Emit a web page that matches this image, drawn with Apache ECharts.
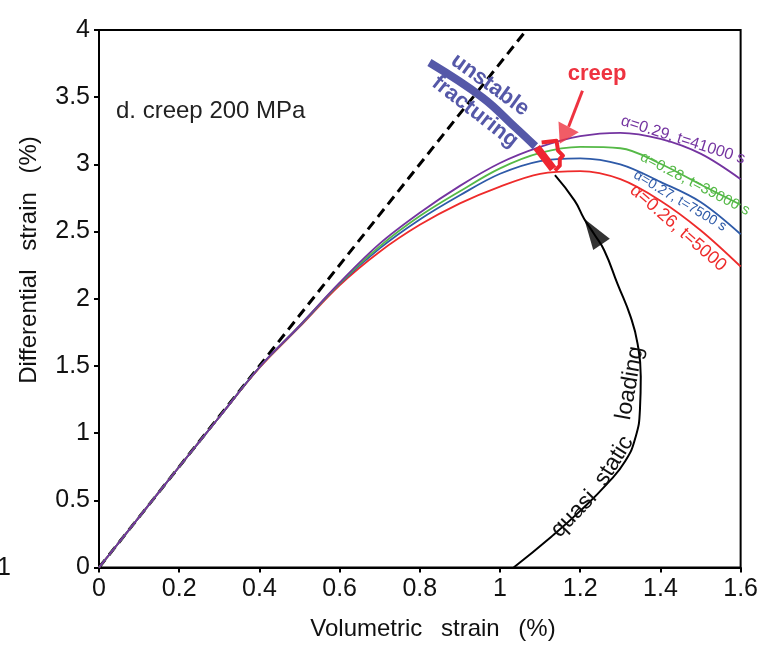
<!DOCTYPE html>
<html>
<head>
<meta charset="utf-8">
<script src="https://cdn.jsdelivr.net/npm/echarts@6/dist/echarts.min.js"></script>
<style>
html, body { margin: 0; padding: 0; background: #fff; }
#chart { width: 761px; height: 648px; }
</style>
</head>
<body>
<div id="chart"></div>
<script>
// volumetric strain samples shared by the four creep curves
const strainX = [0, 0.1, 0.2, 0.3, 0.4, 0.5, 0.6, 0.7, 0.8, 0.9, 1.0, 1.1, 1.2, 1.3, 1.4, 1.5, 1.6]
const curve029 = [0, 0.375, 0.75, 1.12, 1.49, 1.80, 2.12, 2.41, 2.64, 2.84, 3.01, 3.13, 3.21, 3.235, 3.19, 3.08, 2.89]
const curve028 = [0, 0.375, 0.75, 1.12, 1.49, 1.80, 2.115, 2.39, 2.615, 2.80, 2.97, 3.085, 3.13, 3.12, 3.005, 2.85, 2.70]
const curve027 = [0, 0.375, 0.75, 1.12, 1.49, 1.795, 2.11, 2.375, 2.59, 2.77, 2.93, 3.025, 3.045, 3.00, 2.87, 2.72, 2.48]
const curve026 = [0, 0.375, 0.75, 1.12, 1.485, 1.79, 2.10, 2.35, 2.55, 2.71, 2.835, 2.93, 2.95, 2.89, 2.73, 2.51, 2.24]

// elastic reference line
const dashedX = [0, 1.066]
const dashedY = [0, 4]

// quasi static loading path
const loadingX = [1.034, 1.128, 1.202, 1.268, 1.312, 1.338, 1.349, 1.351, 1.343, 1.326, 1.293, 1.260, 1.235, 1.21, 1.186, 1.137]
const loadingY = [0, 0.229, 0.427, 0.626, 0.79, 0.97, 1.18, 1.42, 1.666, 1.863, 2.111, 2.359, 2.48, 2.594, 2.73, 2.92]
const loadingArrow = [[1.2315, 2.50]]

// unstable fracturing branch
const fractureX = [0.824, 0.956, 1.038, 1.088]
const fractureY = [3.758, 3.498, 3.275, 3.135]

// creep marker
const creepBarX = [1.0915, 1.1324]
const creepBarY = [3.126, 2.966]
const creepBraceX = [1.1038, 1.1408, 1.1447, 1.157, 1.149, 1.149, 1.137]
const creepBraceY = [3.163, 3.176, 3.102, 3.065, 3.040, 2.990, 2.953]
const creepShaftX = [1.2056, 1.171]
const creepShaftY = [3.548, 3.280]
const creepArrow = [[1.160, 3.216]]

const font = 'Liberation Sans, Arial, sans-serif'

function pairs(xs, ys) {
	return xs.map((x, i) => [x, ys[i]])
}

function curve(name, ys, color) {
	return {
		name: name,
		type: 'line',
		data: pairs(strainX, ys),
		smooth: 0.35,
		symbol: 'none',
		lineStyle: { color: color, width: 1.8 },
		z: 3
	}
}

function label(text, x, y, deg, size, color, weight) {
	return {
		type: 'text',
		x: x,
		y: y,
		rotation: deg * Math.PI / 180,
		style: {
			text: text,
			fontFamily: font,
			fontSize: size,
			fontWeight: weight || 'normal',
			fill: color,
			align: 'center',
			verticalAlign: 'middle'
		},
		z: 10
	}
}

const chart = echarts.init(document.getElementById('chart'))
chart.setOption({
	animation: false,
	backgroundColor: '#fff',
	grid: {
		left: 99,
		right: 13,
		top: 30,
		bottom: 80.5,
		show: true,
		borderColor: '#000',
		borderWidth: 2
	},
	xAxis: {
		type: 'value',
		min: 0,
		max: 1.6,
		interval: 0.2,
		axisLine: { show: true, onZero: false, lineStyle: { color: '#000', width: 2 } },
		axisTick: { show: true, inside: false, length: 5, lineStyle: { color: '#000', width: 2 } },
		axisLabel: { color: '#111', fontSize: 25, fontFamily: font, margin: 9 },
		splitLine: { show: false }
	},
	yAxis: {
		type: 'value',
		min: 0,
		max: 4,
		interval: 0.5,
		axisLine: { show: true, onZero: false, lineStyle: { color: '#000', width: 2 } },
		axisTick: { show: true, inside: false, length: 5, lineStyle: { color: '#000', width: 2 } },
		axisLabel: { color: '#111', fontSize: 25, fontFamily: font, margin: 9 },
		splitLine: { show: false }
	},
	series: [
		{
			name: 'elastic',
			type: 'line',
			data: pairs(dashedX, dashedY),
			symbol: 'none',
			lineStyle: { color: '#000', width: 3, type: [10, 6] },
			z: 2
		},
		curve('α=0.26, t=5000', curve026, '#ee2b2b'),
		curve('α=0.27, t=7500 s', curve027, '#2e5aa8'),
		curve('α=0.28, t=39000 s', curve028, '#55b947'),
		curve('α=0.29, t=41000 s', curve029, '#7434a0'),
		{
			name: 'quasi static loading',
			type: 'line',
			data: pairs(loadingX, loadingY),
			smooth: 0.5,
			symbol: 'none',
			lineStyle: { color: '#000', width: 2 },
			z: 4
		},
		{
			name: 'loading arrow',
			type: 'scatter',
			data: loadingArrow,
			symbol: 'triangle',
			symbolSize: [20, 31],
			symbolRotate: 34,
			itemStyle: { color: '#000' },
			z: 5
		},
		{
			name: 'unstable fracturing',
			type: 'line',
			data: pairs(fractureX, fractureY),
			smooth: 0.4,
			symbol: 'none',
			lineStyle: { color: '#5558a8', width: 8, cap: 'butt' },
			z: 5
		},
		{
			name: 'creep bar',
			type: 'line',
			data: pairs(creepBarX, creepBarY),
			symbol: 'none',
			lineStyle: { color: '#ee2530', width: 8 },
			z: 6
		},
		{
			name: 'creep brace',
			type: 'line',
			data: pairs(creepBraceX, creepBraceY),
			symbol: 'none',
			lineStyle: { color: '#ee2530', width: 4, join: 'round' },
			z: 6
		},
		{
			name: 'creep shaft',
			type: 'line',
			data: pairs(creepShaftX, creepShaftY),
			symbol: 'none',
			lineStyle: { color: '#ee3340', width: 3 },
			z: 6
		},
		{
			name: 'creep arrow',
			type: 'scatter',
			data: creepArrow,
			symbol: 'triangle',
			symbolSize: [23, 19],
			symbolRotate: 152,
			itemStyle: { color: '#ee3340' },
			z: 6
		}
	],
	graphic: [
		label('Differential\u2002 strain\u2002 (%)', 29, 260, 90, 24, '#111'),
		label('Volumetric\u2002 strain\u2002 (%)', 433, 629, 0, 24, '#111'),
		{
			type: 'text',
			x: 116,
			y: 111,
			style: { text: 'd. creep 200 MPa', fontFamily: font, fontSize: 24, fill: '#222', align: 'left', verticalAlign: 'middle' }
		},
		{
			type: 'text',
			x: -3,
			y: 568,
			style: { text: '1', fontFamily: font, fontSize: 25, fill: '#111', align: 'left', verticalAlign: 'middle' }
		},
		label('unstable', 490, 85, -36, 22, '#5558a8', 'bold'),
		label('fracturing', 475, 112, -38, 22, '#5558a8', 'bold'),
		label('creep', 597, 74, 0, 22, '#ee3340', 'bold'),
		label('α=0.29, t=41000 s', 683, 140, -17.6, 16, '#7434a0'),
		label('α=0.28, t=39000 s', 695, 184, -27.3, 15, '#55b947'),
		label('α=0.27, t=7500 s', 680, 201, -30.8, 14, '#2e5aa8'),
		label('α=0.26, t=5000', 678, 228, -41.2, 18, '#ee2b2b'),
		label('quasi', 574, 514, 46, 23, '#111'),
		label('static', 614, 461, 58, 23, '#111'),
		label('loading', 630, 383, 80, 23, '#111')
	]
})
</script>
</body>
</html>
